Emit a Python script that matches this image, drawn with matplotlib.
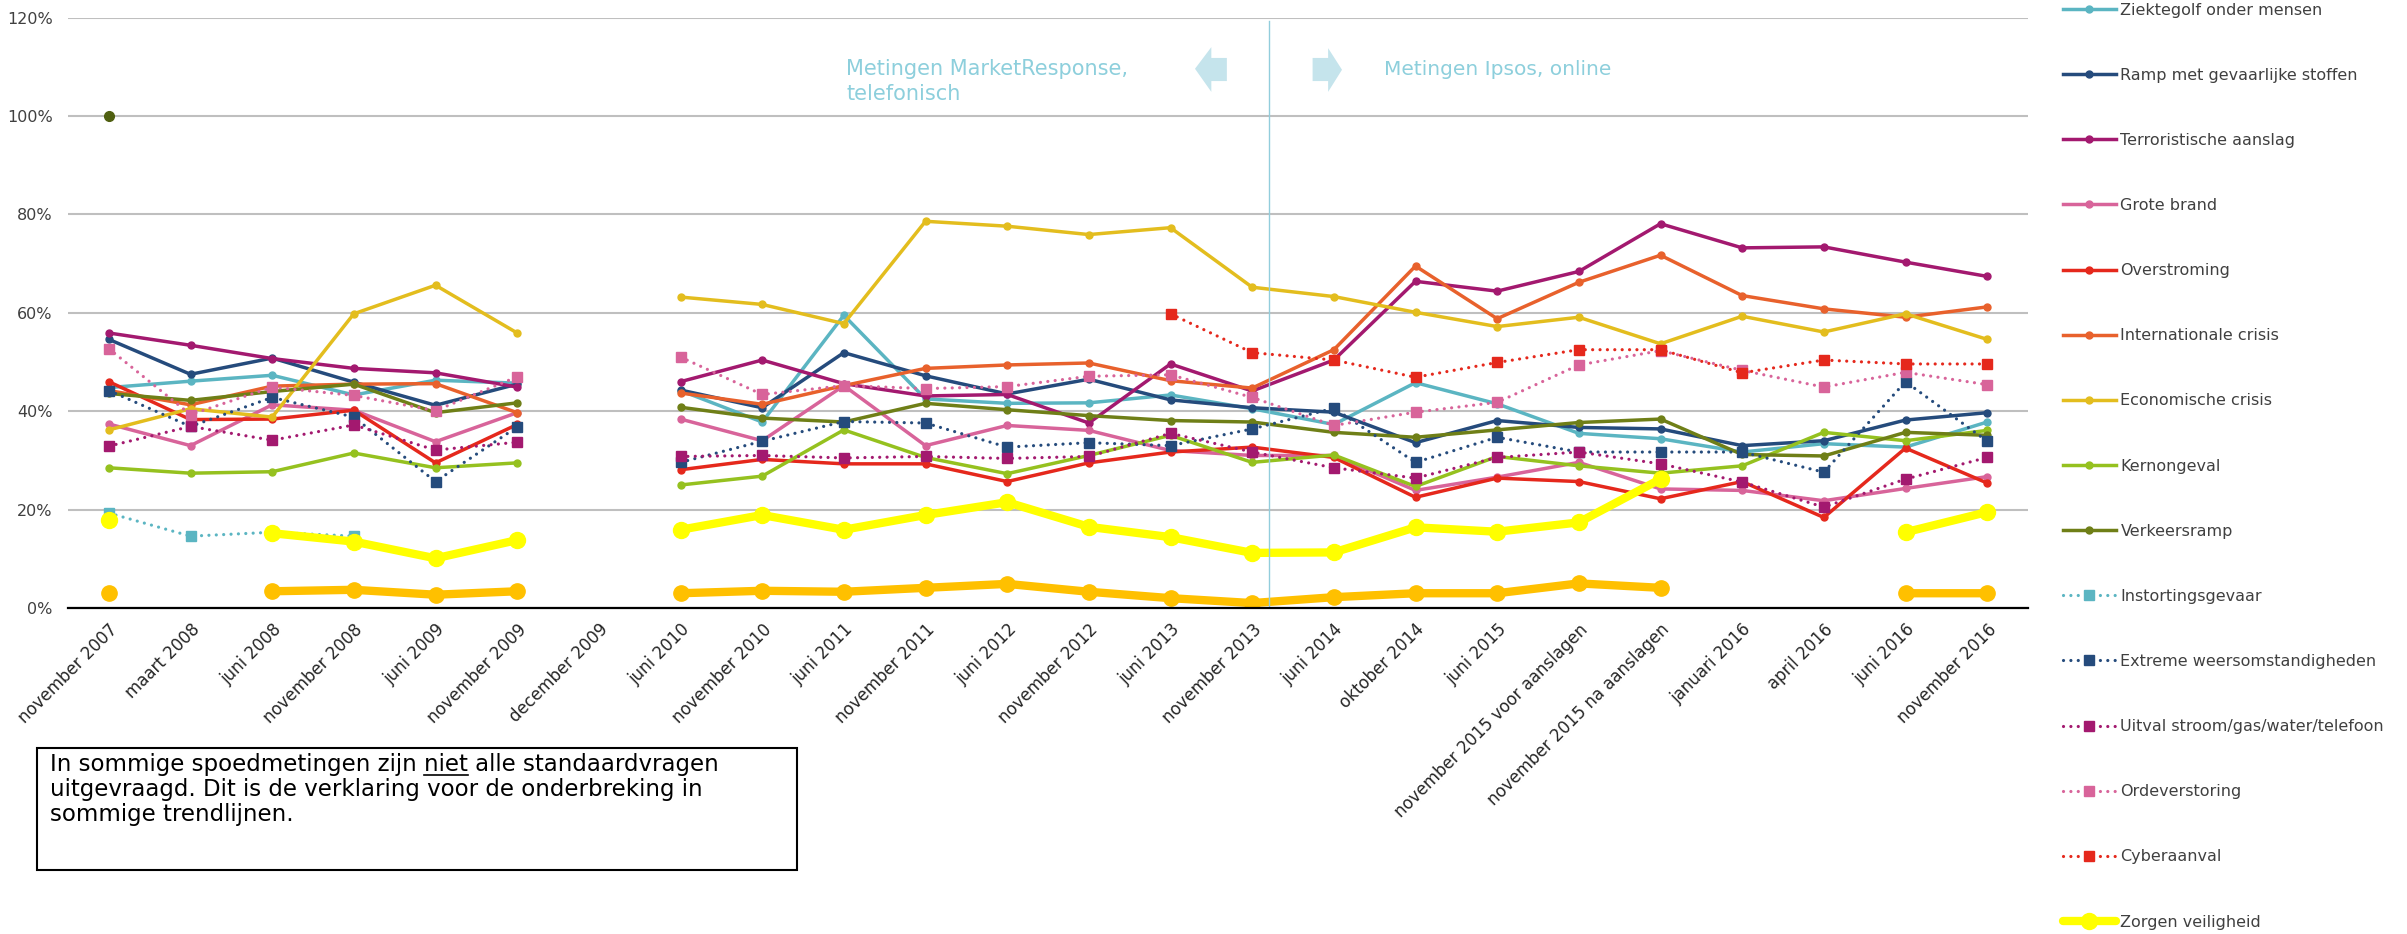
import numpy as np
import matplotlib
matplotlib.use('Agg')
import matplotlib.pyplot as plt
from matplotlib.patches import Polygon, Rectangle
from matplotlib.lines import Line2D

nan = np.nan

# meetmomenten (x-as)
metingen = ['november 2007', 'maart 2008', 'juni 2008', 'november 2008', 'juni 2009',
            'november 2009', 'december 2009', 'juni 2010', 'november 2010', 'juni 2011',
            'november 2011', 'juni 2012', 'november 2012', 'juni 2013', 'november 2013',
            'juni 2014', 'oktober 2014', 'juni 2015', 'november 2015 voor aanslagen',
            'november 2015 na aanslagen', 'januari 2016', 'april 2016', 'juni 2016',
            'november 2016']

# percentages per dreiging (nan = niet uitgevraagd)
ziektegolf = [44.8, 46.1, 47.3, 43.3, 46.3, 45.7, nan, 44.2, 37.8, 59.5, 42.5, 41.6,
              41.7, 43.3, 40.5, 37.3, 45.8, 41.5, 35.5, 34.4, 31.7, 33.4, 32.7, 37.8]
ramp_stoffen = [54.6, 47.5, 50.8, 45.9, 41.2, 45.5, nan, 44.3, 40.7, 51.9, 47.2, 43.5,
                46.5, 42.3, 40.7, 39.8, 33.6, 38.1, 36.7, 36.4, 33.0, 34.0, 38.2, 39.7]
terrorisme = [55.9, 53.4, 50.7, 48.7, 47.8, 44.9, nan, 46.0, 50.4, 45.6, 43.1, 43.4,
              37.6, 49.6, 44.1, 50.4, 66.4, 64.4, 68.4, 78.1, 73.2, 73.4, 70.3, 67.4]
grote_brand = [37.4, 33.0, 41.3, 40.2, 33.8, 39.7, nan, 38.4, 34.0, 45.2, 33.0, 37.1,
               36.1, 32.0, 31.0, 31.0, 23.9, 26.6, 29.6, 24.2, 23.9, 21.8, 24.3, 26.7]
overstroming = [46.0, 38.3, 38.4, 40.2, 29.5, 37.3, nan, 28.1, 30.2, 29.3, 29.3, 25.7,
                29.5, 31.7, 32.7, 30.6, 22.5, 26.4, 25.7, 22.2, 25.7, 18.4, 32.5, 25.4]
int_crisis = [44.2, 41.3, 45.1, 45.5, 45.6, 39.7, nan, 43.7, 41.4, 45.2, 48.7, 49.4,
              49.8, 46.2, 44.7, 52.5, 69.5, 58.8, 66.2, 71.7, 63.5, 60.8, 59.1, 61.2]
eco_crisis = [36.2, 40.5, 38.8, 59.8, 65.6, 55.9, nan, 63.2, 61.7, 57.8, 78.6, 77.6,
              75.9, 77.3, 65.2, 63.3, 60.1, 57.2, 59.1, 53.7, 59.3, 56.1, 59.8, 54.6]
kernongeval = [28.5, 27.4, 27.7, 31.5, 28.5, 29.5, nan, 25.0, 26.8, 36.2, 30.6, 27.3,
               31.0, 35.1, 29.6, 31.1, 24.7, 30.8, 28.9, 27.4, 28.9, 35.7, 34.0, 36.1]
verkeersramp = [43.6, 42.2, 44.0, 45.5, 39.7, 41.7, nan, 40.8, 38.6, 37.8, 41.6, 40.3,
                39.1, 38.1, 37.8, 35.7, 34.7, 36.2, 37.7, 38.4, 31.2, 30.9, 35.7, 35.1]
instorting = [19.3, 14.6, 15.4, 14.6] + [nan] * 20
extreem_weer = [44.2, 36.9, 42.8, 38.8, 25.7, 36.8, nan, 29.6, 33.9, 37.9, 37.6, 32.7,
                33.6, 33.0, 36.4, 40.6, 29.6, 34.7, 31.7, 31.7, 31.7, 27.6, 46.0, 33.9]
uitval = [32.9, 36.9, 34.1, 37.2, 32.1, 33.7, nan, 30.8, 31.0, 30.5, 30.8, 30.4,
          30.8, 35.5, 31.7, 28.5, 26.4, 30.6, 31.7, 29.3, 25.6, 20.5, 26.2, 30.6]
ordeverstoring = [52.7, 39.3, 44.9, 43.2, 40.1, 47.0, nan, 51.0, 43.4, 45.2, 44.6, 45.0,
                  47.1, 47.4, 42.8, 37.1, 39.8, 41.8, 49.4, 52.3, 48.3, 44.9, 47.9, 45.4]
cyberaanval = [nan] * 13 + [59.8, 51.9, 50.4, 46.9, 49.9, 52.5, 52.5, 47.8, 50.4, 49.6, 49.6]
zorgen = [17.9, nan, 15.2, 13.5, 10.1, 13.8, nan, 15.9, 18.9, 15.9, 18.9, 21.5,
          16.5, 14.4, 11.2, 11.3, 16.4, 15.5, 17.4, 26.2, nan, nan, 15.4, 19.5]
oranje_reeks = [3.0, nan, 3.4, 3.7, 2.7, 3.4, nan, 3.0, 3.5, 3.3, 4.1, 4.9,
                3.3, 2.0, 1.0, 2.2, 3.0, 3.0, 5.0, 4.1, nan, nan, 3.0, 3.0]
hulppunt = [100.0] + [nan] * 23

reeksen = [
    ('Ziektegolf onder mensen', ziektegolf, '#5BB5C2', 'lijn'),
    ('Ramp met gevaarlijke stoffen', ramp_stoffen, '#254B7C', 'lijn'),
    ('Terroristische aanslag', terrorisme, '#A3196F', 'lijn'),
    ('Grote brand', grote_brand, '#D8649A', 'lijn'),
    ('Overstroming', overstroming, '#E5281C', 'lijn'),
    ('Internationale crisis', int_crisis, '#E8612C', 'lijn'),
    ('Economische crisis', eco_crisis, '#E3BD1E', 'lijn'),
    ('Kernongeval', kernongeval, '#95C11F', 'lijn'),
    ('Verkeersramp', verkeersramp, '#6F7F17', 'lijn'),
    ('Instortingsgevaar', instorting, '#5BB5C2', 'punt'),
    ('Extreme weersomstandigheden', extreem_weer, '#254B7C', 'punt'),
    ('Uitval stroom/gas/water/telefoon', uitval, '#A3196F', 'punt'),
    ('Ordeverstoring', ordeverstoring, '#D8649A', 'punt'),
    ('Cyberaanval', cyberaanval, '#E5281C', 'punt'),
    ('Zorgen veiligheid', zorgen, '#FFFF00', 'dik'),
]

W, H = 2407, 934
fig = plt.figure(figsize=(W / 100, H / 100), dpi=100)
ax = fig.add_axes([68 / W, 1 - 608 / H, 1960 / W, (608 - 17.6) / H])
x = np.arange(len(metingen))

# reeksen zonder legenda
ax.plot(x, oranje_reeks, color='#FFC000', lw=6, marker='o', ms=11, mec='#FFC000',
        solid_capstyle='round', label='_nolegend_', zorder=3)
ax.plot(x, hulppunt, color='#4F5F10', lw=0, marker='o', ms=7, label='_nolegend_', zorder=3)

for naam, waarden, kleur, stijl in reeksen:
    if stijl == 'lijn':
        ax.plot(x, waarden, color=kleur, lw=2.5, marker='o', ms=5, mec=kleur, label=naam, zorder=4)
    elif stijl == 'punt':
        ax.plot(x, waarden, color=kleur, lw=2.3, linestyle=(0, (0.01, 2.3)),
                dash_capstyle='round', marker='s', ms=6.5, mec=kleur, label=naam, zorder=4)
    else:
        ax.plot(x, waarden, color=kleur, lw=6, marker='o', ms=11.5, mec=kleur,
                solid_capstyle='round', label=naam, zorder=5)

ax.set_xlim(-0.5, len(metingen) - 0.5)
ax.set_ylim(0, 120)
ax.set_yticks(np.arange(0, 121, 20))
ax.set_yticklabels([f'{v}%' for v in range(0, 121, 20)])
ax.set_xticks(x)
ax.set_xticklabels(metingen, rotation=45, ha='right', rotation_mode='anchor')
ax.tick_params(axis='x', length=0, pad=9, labelsize=12, labelcolor='#262626')
ax.tick_params(axis='y', length=0, pad=11, labelsize=11.5, labelcolor='#404040')
ax.grid(axis='y', color='#BFBFBF', lw=1.5, zorder=0)
ax.set_axisbelow(True)
for kant in ['left', 'right', 'top']:
    ax.spines[kant].set_visible(False)
ax.spines['bottom'].set_color('#000000')
ax.spines['bottom'].set_linewidth(1.6)
ax.spines['bottom'].set_zorder(6)

# scheiding tussen de twee onderzoeksbureaus
ax.axvline(14.2, ymax=119.3 / 120, color='#92CDDC', lw=1.0, zorder=6)
pijl_kleur = '#C5E4EC'
ax.add_patch(Polygon([(13.30, 109.6), (13.50, 114.0), (13.50, 111.8), (13.69, 111.8),
                      (13.69, 107.1), (13.50, 107.1), (13.50, 104.9)],
                     closed=True, color=pijl_kleur, lw=0, zorder=6))
ax.add_patch(Polygon([(15.10, 109.4), (14.93, 113.8), (14.93, 111.8), (14.74, 111.8),
                      (14.74, 107.1), (14.93, 107.1), (14.93, 104.9)],
                     closed=True, color=pijl_kleur, lw=0, zorder=6))
tekst_kleur = '#8DCFDC'
ax.text(9.03, 108.3, 'Metingen MarketResponse,', color=tekst_kleur, fontsize=15, va='baseline')
ax.text(9.03, 103.2, 'telefonisch', color=tekst_kleur, fontsize=15, va='baseline')
ax.text(15.61, 108.3, 'Metingen Ipsos, online', color=tekst_kleur, fontsize=14.5, va='baseline')

# legenda rechts
handles, labels = ax.get_legend_handles_labels()
ax.legend(handles, labels, loc='upper left', bbox_to_anchor=(2063 / W, 1 - 2.5 / H),
          bbox_transform=fig.transFigure, frameon=False, fontsize=11.5,
          handlelength=3.3, handletextpad=0.3, labelspacing=3.14, borderpad=0,
          borderaxespad=0, numpoints=1, labelcolor='#404040')

# tekstvak met toelichting
fig.patches.append(Rectangle((37 / W, 1 - 870 / H), 760 / W, 122 / H, transform=fig.transFigure,
                             fill=False, ec='#000000', lw=1.5))
regels = ['In sommige spoedmetingen zijn niet alle standaardvragen',
          'uitgevraagd. Dit is de verklaring voor de onderbreking in',
          'sommige trendlijnen.']
basislijnen = [771, 796, 821]
for regel, yb in zip(regels, basislijnen):
    fig.text(50 / W, 1 - yb / H, regel, fontsize=16.5, color='#000000', va='baseline')

# onderstreping van "niet"
renderer = fig.canvas.get_renderer()
t1 = fig.text(0, 0, 'In sommige spoedmetingen zijn niet', fontsize=16.5)
t2 = fig.text(0, 0, 'niet', fontsize=16.5)
w1 = t1.get_window_extent(renderer).width
w2 = t2.get_window_extent(renderer).width
t1.remove()
t2.remove()
x_eind = 50 + w1
x_begin = x_eind - w2
fig.add_artist(Line2D([x_begin / W, x_eind / W], [1 - 775 / H, 1 - 775 / H],
                      transform=fig.transFigure, color='#000000', lw=1.2))

fig.savefig('out.png', dpi=100)
